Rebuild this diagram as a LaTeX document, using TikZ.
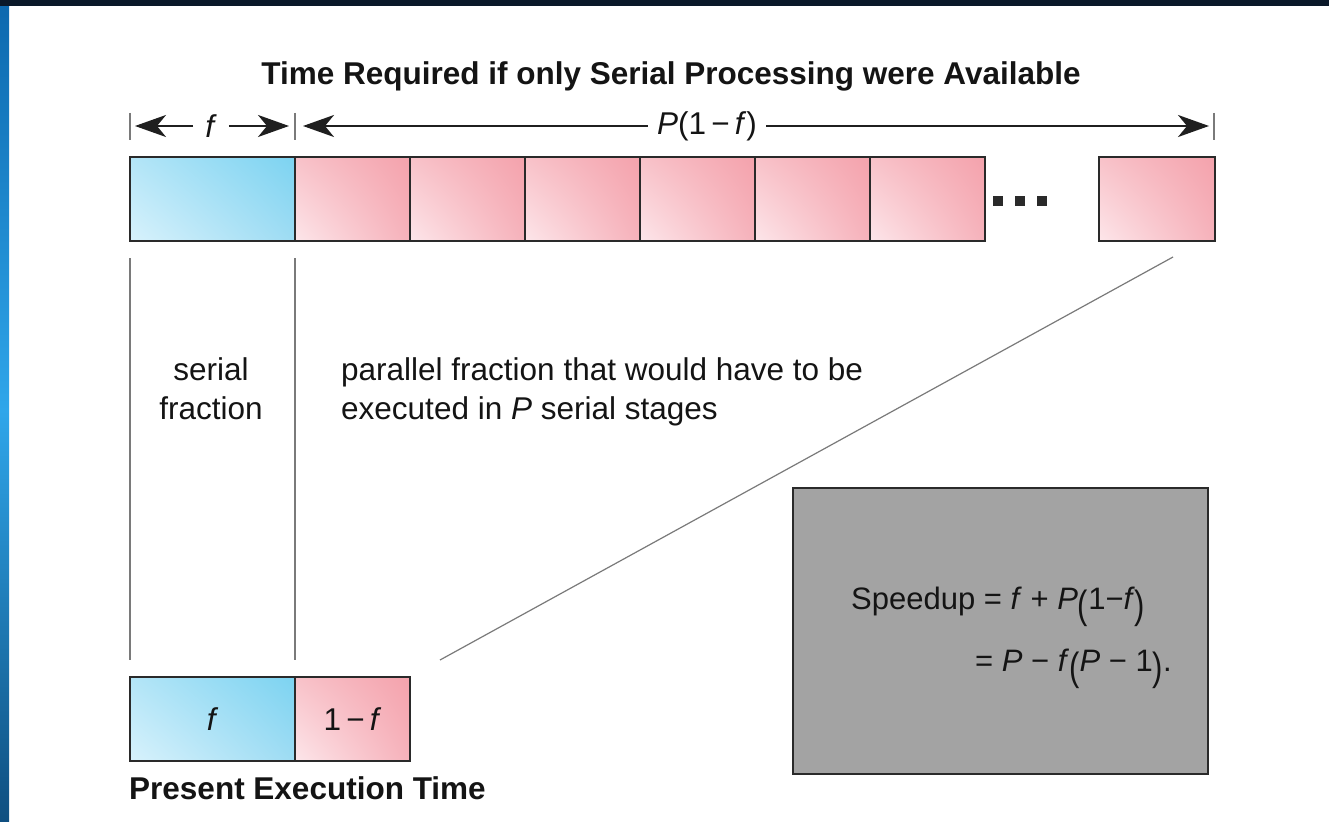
\documentclass[tikz,border=0pt]{standalone}
\usepackage{fontspec}
\setmainfont{Liberation Sans}
\usepackage{graphicx}
\usetikzlibrary{arrows.meta,shadings}
\definecolor{boxline}{HTML}{2A2A2A}
\definecolor{bUL}{HTML}{B3E5F7}
\definecolor{bUR}{HTML}{7CD3F1}
\definecolor{bLL}{HTML}{D8F2FC}
\definecolor{bLR}{HTML}{9EDCF3}
\definecolor{pUL}{HTML}{F8C2C9}
\definecolor{pUR}{HTML}{F4A2AC}
\definecolor{pLL}{HTML}{FDE6EA}
\definecolor{pLR}{HTML}{F6B2BB}
\definecolor{guide}{HTML}{7A7A7A}
\definecolor{panel}{HTML}{A3A3A3}
\definecolor{edgeA}{HTML}{0C68AE}
\definecolor{edgeB}{HTML}{2FA6EA}
\definecolor{edgeC}{HTML}{0F4F80}
\definecolor{topband}{HTML}{0A1829}
\newcommand\bigpar[1]{\raisebox{-0.3em}{\scalebox{1}[1.27]{#1}}}
\begin{document}
\begin{tikzpicture}[x=1pt,y=-1pt,
  every node/.style={font=\fontsize{31.5}{39}\selectfont, text=black!92},
  cell/.style={draw=boxline, line width=2.2pt, shade, minimum height=84pt, inner sep=0pt, outer sep=0pt, anchor=north west},
  bluecell/.style={cell, minimum width=165pt, upper left=bUL, upper right=bUR, lower left=bLL, lower right=bLR},
  pinkcell/.style={cell, upper left=pUL, upper right=pUR, lower left=pLL, lower right=pLR},
  dim/.style={draw=black!88, line width=2.2pt, -{Stealth[length=31pt,width=22pt,inset=9pt]}},
  dimtick/.style={draw=guide, line width=1.4pt},
  guideline/.style={draw=guide, line width=1.4pt},
  plain/.style={inner sep=0pt, anchor=base west},
  bold/.style={font=\fontsize{31.5}{39}\selectfont\bfseries},
  dotsq/.style={fill=boxline, minimum size=9.5pt, inner sep=0pt},
]
\useasboundingbox (0,0) rectangle (1329,821);
% slide background
\fill[white] (0,0) rectangle (1329,821);
\shade[top color=edgeA, bottom color=edgeC, middle color=edgeB] (0,0) rectangle (9,821);
\fill[topband] (0,0) rectangle (1329,6);

% title
\node[plain, bold, anchor=base] (title) at (671,85) {Time Required if only Serial Processing were Available};

% dimension line
\coordinate (k0) at (130,126);
\coordinate (k1) at (295,126);
\coordinate (k2) at (1214,126);
\draw[dimtick] ([yshift=13pt]k0) -- ([yshift=-14pt]k0);
\draw[dimtick] ([yshift=13pt]k1) -- ([yshift=-14pt]k1);
\draw[dimtick] ([yshift=13pt]k2) -- ([yshift=-14pt]k2);
\node[inner xsep=12pt, inner ysep=0pt] (flab) at (211,126) {\textit{f}};
\coordinate (fa0) at (135,126);
\coordinate (fa1) at (289,126);
\draw[dim] (flab) -- (fa0);
\draw[dim] (flab) -- (fa1);
\node[inner xsep=9pt, inner ysep=0pt] (plab) at (707,126) {\textit{P}(1\,−\,\textit{f})};
\coordinate (pa0) at (303,126);
\coordinate (pa1) at (1209,126);
\draw[dim] (plab) -- (pa0);
\draw[dim] (plab) -- (pa1);

% serial time bar
\node[bluecell] (s0) at (130,157) {};
\foreach \i in {1,...,6}
  \node[pinkcell, minimum width=115pt] (s\i) at ({295+115*(\i-1)},157) {};
\node[pinkcell, minimum width=116pt] (s7) at (1099,157) {};
\node[dotsq] (d1) at (998,201) {};
\node[dotsq] (d2) at (1020,201) {};
\node[dotsq] (d3) at (1042,201) {};

% present execution bar
\node[bluecell] (b0) at (130,677) {\textit{f}};
\node[pinkcell, minimum width=115pt] (b1) at (295,677) {1\,−\,\textit{f}};
\node[plain, bold] (pet) at (129,799) {Present Execution Time};

% guide lines
\draw[guideline] ([yshift=-17pt]s0.south west) -- ([yshift=17pt]b0.north west);
\draw[guideline] ([yshift=-17pt]s0.south east) -- ([yshift=17pt]b0.north east);
\coordinate (dA) at (1173,257);
\coordinate (dB) at (440,660);
\draw[guideline, line width=1.2pt] (dA) -- (dB);

% labels
\node[plain, anchor=base] (ser1) at (211,380) {serial};
\node[plain, anchor=base] (ser2) at (211,419) {fraction};
\node[plain] (par1) at (341,380) {parallel fraction that would have to be};
\node[plain] (par2) at (341,419) {executed in \textit{P} serial stages};

% speedup panel
\node[draw=boxline, line width=1.5pt, fill=panel, minimum width=415pt, minimum height=286pt, anchor=north west, inner sep=0pt] (panel) at (792,487) {};
\node[plain, font=\fontsize{31}{39}\selectfont] (eq1) at (851,609) {Speedup = \textit{f} + \textit{P}\bigpar{(}1−\textit{f}\bigpar{)}};
\node[plain, font=\fontsize{31}{39}\selectfont] (eq2) at (975,671) {= \textit{P} − \textit{f}\bigpar{(}\textit{P} − 1\bigpar{)}.};
\end{tikzpicture}
\end{document}
